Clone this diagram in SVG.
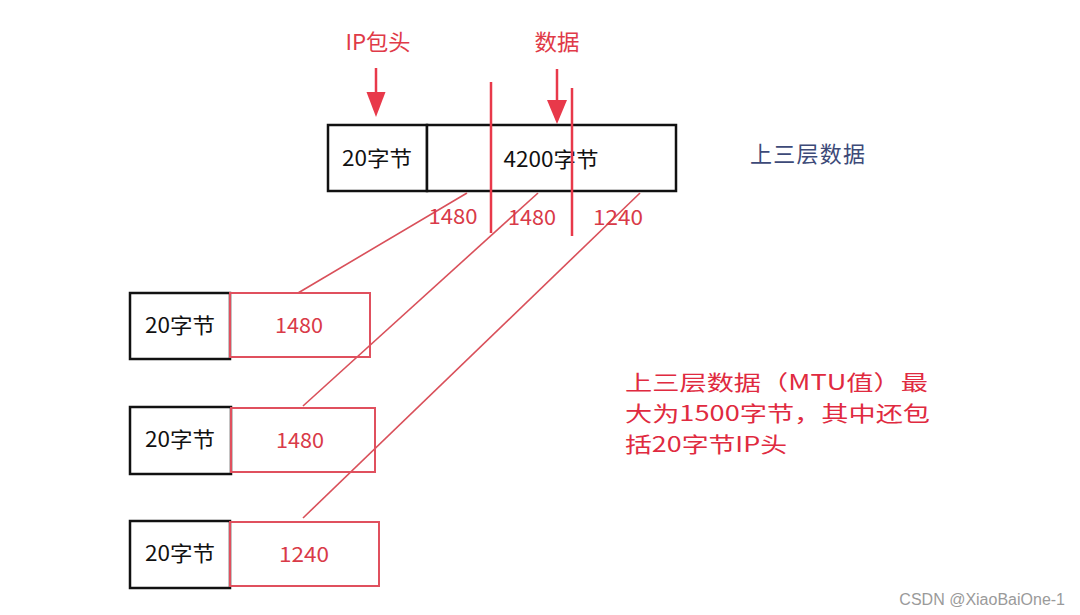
<svg xmlns="http://www.w3.org/2000/svg" width="1080" height="615" viewBox="0 0 1080 615">
<style>
text{font-family:"Noto Sans CJK SC","Noto Sans",sans-serif;}
.blk{fill:#fff;stroke:#111;stroke-width:2.5;}
.redbox{fill:none;stroke:#e0505e;stroke-width:2;}
.bt{font-size:21px;fill:#111;text-anchor:middle;}
.rt{font-size:21px;fill:#d93a48;text-anchor:middle;}
.red{stroke:#e8394a;stroke-width:2.5;fill:none;}
.diag{stroke:#d9505a;stroke-width:1.6;fill:none;}
.note{font-size:21px;fill:#e02a40;}
</style>
<rect width="1080" height="615" fill="#fff"/>
<g id="labels-top">
<text x="378" y="50" font-size="22" fill="#e03a48" text-anchor="middle" textLength="65" lengthAdjust="spacingAndGlyphs">IP包头</text>
<text x="557" y="50" font-size="22" fill="#e03a48" text-anchor="middle" textLength="45" lengthAdjust="spacingAndGlyphs">数据</text>
</g>
<g id="top-header">
<rect class="blk" x="328" y="125" width="99" height="66"/>
<text class="bt" x="377" y="166" textLength="70" lengthAdjust="spacingAndGlyphs">20字节</text>
</g>
<g id="top-data">
<rect class="blk" x="427" y="125" width="249" height="66"/>
<text class="bt" x="551" y="167" textLength="95" lengthAdjust="spacingAndGlyphs">4200字节</text>
</g>
<g id="upper-label">
<text x="750" y="162" font-size="22" fill="#3d4a78" textLength="115" lengthAdjust="spacing">上三层数据</text>
</g>
<g id="connectors">
<line class="red" x1="376" y1="68" x2="376" y2="92"/>
<path d="M366.5,92 L385.5,92 L376,117 Z" fill="#e8394a"/>
<line class="red" x1="557" y1="69" x2="557" y2="100"/>
<path d="M547,100 L567,100 L557,124 Z" fill="#e8394a"/>
<line class="red" x1="491" y1="82" x2="491" y2="233"/>
<line class="red" x1="572" y1="88" x2="572" y2="236"/>
<line class="diag" x1="467" y1="193" x2="298" y2="293"/>
<line class="diag" x1="538" y1="193" x2="303" y2="406"/>
<line class="diag" x1="640" y1="193" x2="303" y2="518"/>
</g>
<g id="split-labels">
<text class="rt" x="453" y="224" textLength="49" lengthAdjust="spacingAndGlyphs">1480</text>
<text class="rt" x="532" y="225" textLength="48" lengthAdjust="spacingAndGlyphs">1480</text>
<text class="rt" x="618" y="225" textLength="50" lengthAdjust="spacingAndGlyphs">1240</text>
</g>
<g id="frag1">
<rect class="blk" x="130" y="293" width="100" height="66"/>
<rect class="redbox" x="230" y="293" width="140" height="64"/>
<text class="bt" x="180" y="333" textLength="70" lengthAdjust="spacingAndGlyphs">20字节</text>
<text class="rt" x="299" y="333" textLength="48" lengthAdjust="spacingAndGlyphs">1480</text>
</g>
<g id="frag2">
<rect class="blk" x="130" y="407" width="101" height="67"/>
<rect class="redbox" x="231" y="408" width="144" height="64"/>
<text class="bt" x="180" y="447" textLength="70" lengthAdjust="spacingAndGlyphs">20字节</text>
<text class="rt" x="300" y="448" textLength="48" lengthAdjust="spacingAndGlyphs">1480</text>
</g>
<g id="frag3">
<rect class="blk" x="130" y="521" width="100" height="67"/>
<rect class="redbox" x="230" y="522" width="149" height="64"/>
<text class="bt" x="180" y="561" textLength="70" lengthAdjust="spacingAndGlyphs">20字节</text>
<text class="rt" x="304" y="562" textLength="50" lengthAdjust="spacingAndGlyphs">1240</text>
</g>
<g id="note">
<text class="note" x="625" y="390" textLength="303" lengthAdjust="spacingAndGlyphs">上三层数据（MTU值）最</text>
<text class="note" x="625" y="421" textLength="305" lengthAdjust="spacingAndGlyphs">大为1500字节，其中还包</text>
<text class="note" x="625" y="452" textLength="162" lengthAdjust="spacingAndGlyphs">括20字节IP头</text>
</g>
<text x="1065" y="605" font-size="16" fill="#9a9a9a" text-anchor="end" style="font-family:'Liberation Sans',sans-serif">CSDN @XiaoBaiOne-1</text>
</svg>
